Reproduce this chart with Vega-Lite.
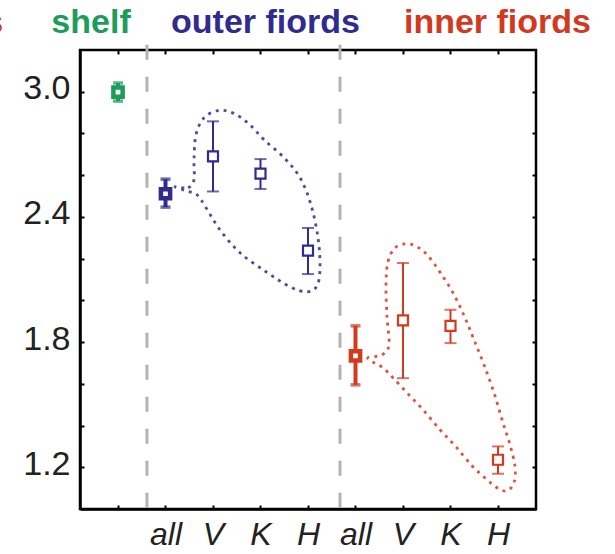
{
  "$schema": "https://vega.github.io/schema/vega-lite/v6.json",
  "width": 456,
  "height": 459,
  "autosize": "none",
  "padding": {"left": 80, "top": 50, "right": 79, "bottom": 45},
  "background": "white",
  "config": {"view": {"stroke": "black", "strokeWidth": 2.5}, "font": "Liberation Sans"},
  "resolve": {"axis": {"x": "independent", "y": "independent"}},
  "datasets": {
    "pts": [
      {"group": "shelf", "kind": "shelf", "site": "shelf", "x": 1, "mean": 2.998, "lo": 2.955, "hi": 3.042},
      {"group": "outer", "kind": "all", "site": "all", "x": 2, "mean": 2.511, "lo": 2.447, "hi": 2.581},
      {"group": "outer", "kind": "site", "site": "V", "x": 3, "mean": 2.69, "lo": 2.522, "hi": 2.858},
      {"group": "outer", "kind": "site", "site": "K", "x": 4, "mean": 2.607, "lo": 2.534, "hi": 2.677},
      {"group": "outer", "kind": "site", "site": "H", "x": 5, "mean": 2.238, "lo": 2.126, "hi": 2.347},
      {"group": "inner", "kind": "all", "site": "all", "x": 6, "mean": 1.734, "lo": 1.595, "hi": 1.878},
      {"group": "inner", "kind": "site", "site": "V", "x": 7, "mean": 1.904, "lo": 1.627, "hi": 2.179},
      {"group": "inner", "kind": "site", "site": "K", "x": 8, "mean": 1.878, "lo": 1.795, "hi": 1.955},
      {"group": "inner", "kind": "site", "site": "H", "x": 9, "mean": 1.236, "lo": 1.169, "hi": 1.3}
    ],
    "seps": [
      {"x": 1.61, "top": 3.225, "bottom": 0.925},
      {"x": 5.674, "top": 3.225, "bottom": 0.925}
    ],
    "heads": [
      {"group": "inner", "label": "fiords", "x": -2.41, "y": 3.283},
      {"group": "shelf", "label": "shelf", "x": 0.432, "y": 3.283},
      {"group": "outer", "label": "outer fiords", "x": 4.105, "y": 3.283},
      {"group": "inner", "label": "inner fiords", "x": 8.989, "y": 3.283}
    ],
    "loops": [
      {"group": "outer", "ord": 1, "x": 2.2, "y": 2.545},
      {"group": "outer", "ord": 2, "x": 2.474, "y": 2.54},
      {"group": "outer", "ord": 3, "x": 2.6, "y": 2.578},
      {"group": "outer", "ord": 4, "x": 2.6, "y": 2.674},
      {"group": "outer", "ord": 5, "x": 2.642, "y": 2.794},
      {"group": "outer", "ord": 6, "x": 2.811, "y": 2.875},
      {"group": "outer", "ord": 7, "x": 3.105, "y": 2.91},
      {"group": "outer", "ord": 8, "x": 3.4, "y": 2.9},
      {"group": "outer", "ord": 9, "x": 3.737, "y": 2.85},
      {"group": "outer", "ord": 10, "x": 4.074, "y": 2.77},
      {"group": "outer", "ord": 11, "x": 4.495, "y": 2.684},
      {"group": "outer", "ord": 12, "x": 4.832, "y": 2.588},
      {"group": "outer", "ord": 13, "x": 5.063, "y": 2.458},
      {"group": "outer", "ord": 14, "x": 5.211, "y": 2.3},
      {"group": "outer", "ord": 15, "x": 5.253, "y": 2.156},
      {"group": "outer", "ord": 16, "x": 5.189, "y": 2.07},
      {"group": "outer", "ord": 17, "x": 4.979, "y": 2.041},
      {"group": "outer", "ord": 18, "x": 4.621, "y": 2.065},
      {"group": "outer", "ord": 19, "x": 4.116, "y": 2.137},
      {"group": "outer", "ord": 20, "x": 3.568, "y": 2.228},
      {"group": "outer", "ord": 21, "x": 3.147, "y": 2.338},
      {"group": "outer", "ord": 22, "x": 2.853, "y": 2.444},
      {"group": "outer", "ord": 23, "x": 2.663, "y": 2.506},
      {"group": "outer", "ord": 24, "x": 2.432, "y": 2.525},
      {"group": "inner", "ord": 1, "x": 6.263, "y": 1.725},
      {"group": "inner", "ord": 2, "x": 6.558, "y": 1.739},
      {"group": "inner", "ord": 3, "x": 6.705, "y": 1.787},
      {"group": "inner", "ord": 4, "x": 6.663, "y": 1.921},
      {"group": "inner", "ord": 5, "x": 6.642, "y": 2.075},
      {"group": "inner", "ord": 6, "x": 6.684, "y": 2.185},
      {"group": "inner", "ord": 7, "x": 6.832, "y": 2.252},
      {"group": "inner", "ord": 8, "x": 7.063, "y": 2.271},
      {"group": "inner", "ord": 9, "x": 7.295, "y": 2.257},
      {"group": "inner", "ord": 10, "x": 7.526, "y": 2.214},
      {"group": "inner", "ord": 11, "x": 7.8, "y": 2.128},
      {"group": "inner", "ord": 12, "x": 8.074, "y": 2.027},
      {"group": "inner", "ord": 13, "x": 8.305, "y": 1.917},
      {"group": "inner", "ord": 14, "x": 8.495, "y": 1.811},
      {"group": "inner", "ord": 15, "x": 8.705, "y": 1.691},
      {"group": "inner", "ord": 16, "x": 8.916, "y": 1.557},
      {"group": "inner", "ord": 17, "x": 9.105, "y": 1.413},
      {"group": "inner", "ord": 18, "x": 9.253, "y": 1.308},
      {"group": "inner", "ord": 19, "x": 9.358, "y": 1.202},
      {"group": "inner", "ord": 20, "x": 9.337, "y": 1.126},
      {"group": "inner", "ord": 21, "x": 9.189, "y": 1.087},
      {"group": "inner", "ord": 22, "x": 8.979, "y": 1.102},
      {"group": "inner", "ord": 23, "x": 8.747, "y": 1.145},
      {"group": "inner", "ord": 24, "x": 8.453, "y": 1.207},
      {"group": "inner", "ord": 25, "x": 8.116, "y": 1.298},
      {"group": "inner", "ord": 26, "x": 7.779, "y": 1.38},
      {"group": "inner", "ord": 27, "x": 7.421, "y": 1.476},
      {"group": "inner", "ord": 28, "x": 7.084, "y": 1.557},
      {"group": "inner", "ord": 29, "x": 6.789, "y": 1.629},
      {"group": "inner", "ord": 30, "x": 6.579, "y": 1.677},
      {"group": "inner", "ord": 31, "x": 6.389, "y": 1.701}
    ]
  },
  "layer": [
    {
      "data": {"name": "seps"},
      "mark": {"type": "rule", "color": "#b3b3b3", "strokeWidth": 3, "strokeDash": [15, 17]},
      "encoding": {
        "x": {"field": "x", "type": "quantitative", "scale": {"domain": [0.2, 9.8], "nice": false, "zero": false},
          "axis": {"orient": "top", "values": [1, 2, 3, 4, 5, 6, 7, 8, 9], "labels": false, "domain": false, "grid": false, "title": null, "tickSize": -4, "tickWidth": 2, "tickColor": "black"}},
        "y": {"field": "top", "type": "quantitative", "scale": {"domain": [1.0, 3.2], "nice": false, "zero": false},
          "axis": {"orient": "right", "values": [1.2, 1.4, 1.6, 1.8, 2.0, 2.2, 2.4, 2.6, 2.8, 3.0], "labels": false, "domain": false, "grid": false, "title": null, "tickSize": -4, "tickWidth": 2, "tickColor": "black"}},
        "y2": {"field": "bottom"}
      }
    },
    {
      "data": {"name": "loops"},
      "mark": {"type": "line", "interpolate": "cardinal-closed", "strokeWidth": 2.8, "strokeDash": [3, 5], "opacity": 0.85},
      "encoding": {
        "x": {"field": "x", "type": "quantitative", "axis": null},
        "y": {"field": "y", "type": "quantitative", "axis": null},
        "detail": {"field": "group"},
        "order": {"field": "ord", "type": "quantitative"},
        "color": {"field": "group", "type": "nominal", "scale": {"domain": ["shelf", "outer", "inner"], "range": ["#1e9d5a", "#302b8e", "#d2391f"]}, "legend": null}
      }
    },
    {
      "data": {"name": "pts"},
      "transform": [{"filter": "datum.kind == 'site'"}],
      "layer": [
        {"mark": {"type": "rule", "strokeWidth": 2}, "encoding": {"y": {"field": "lo", "type": "quantitative", "axis": null}, "y2": {"field": "hi"}}},
        {"mark": {"type": "tick", "orient": "horizontal", "size": 12, "thickness": 2}, "encoding": {"y": {"field": "lo", "type": "quantitative", "axis": null}}},
        {"mark": {"type": "tick", "orient": "horizontal", "size": 12, "thickness": 2}, "encoding": {"y": {"field": "hi", "type": "quantitative", "axis": null}}},
        {"mark": {"type": "point", "shape": "square", "size": 100, "strokeWidth": 2.2, "fill": "white", "filled": true, "opacity": 1},
          "encoding": {"y": {"field": "mean", "type": "quantitative", "axis": null}, "stroke": {"field": "group", "type": "nominal", "scale": {"domain": ["shelf", "outer", "inner"], "range": ["#1e9d5a", "#302b8e", "#d2391f"]}, "legend": null}}}
      ],
      "encoding": {
        "x": {"field": "x", "type": "quantitative", "axis": null},
        "color": {"field": "group", "type": "nominal", "legend": null}
      }
    },
    {
      "data": {"name": "pts"},
      "transform": [{"filter": "datum.kind != 'site'"}],
      "layer": [
        {"mark": {"type": "rule", "strokeWidth": 4}, "encoding": {"y": {"field": "lo", "type": "quantitative", "axis": null}, "y2": {"field": "hi"}}},
        {"mark": {"type": "tick", "orient": "horizontal", "size": 10, "thickness": 3.5}, "encoding": {"y": {"field": "lo", "type": "quantitative", "axis": null}}},
        {"mark": {"type": "tick", "orient": "horizontal", "size": 10, "thickness": 3.5}, "encoding": {"y": {"field": "hi", "type": "quantitative", "axis": null}}},
        {"mark": {"type": "point", "shape": "square", "size": 85, "strokeWidth": 4.5, "fill": "white", "filled": true, "opacity": 1},
          "encoding": {"y": {"field": "mean", "type": "quantitative", "axis": null}, "stroke": {"field": "group", "type": "nominal", "scale": {"domain": ["shelf", "outer", "inner"], "range": ["#1e9d5a", "#302b8e", "#d2391f"]}, "legend": null}}}
      ],
      "encoding": {
        "x": {"field": "x", "type": "quantitative",
          "axis": {"orient": "bottom", "values": [1, 2, 3, 4, 5, 6, 7, 8, 9], "labelExpr": "['','all','V','K','H','all','V','K','H'][round(datum.value)-1]", "labelFont": "Liberation Sans", "labelFontSize": 32, "labelFontStyle": "italic", "labelColor": "#222222", "labelPadding": 14, "labelFlush": false, "labelOverlap": false, "labelBound": false, "tickSize": -4, "tickWidth": 2, "tickColor": "black", "domainColor": "black", "domainWidth": 2.5, "grid": false, "title": null}},
        "color": {"field": "group", "type": "nominal", "legend": null}
      }
    },
    {
      "data": {"name": "pts"},
      "mark": {"type": "point", "opacity": 0},
      "encoding": {
        "x": {"field": "x", "type": "quantitative", "axis": null},
        "y": {"field": "mean", "type": "quantitative",
          "axis": {"orient": "left", "values": [1.2, 1.4, 1.6, 1.8, 2.0, 2.2, 2.4, 2.6, 2.8, 3.0], "labelExpr": "(round(datum.value*10) % 6 == 0) ? format(datum.value, '.1f') : ''", "labelFont": "Liberation Sans", "labelFontSize": 34, "labelColor": "#222222", "labelPadding": 14, "labelBaseline": "alphabetic", "labelOffset": 7, "labelFlush": false, "labelOverlap": false, "labelBound": false, "tickSize": -4, "tickWidth": 2, "tickColor": "black", "domainColor": "black", "domainWidth": 2.5, "grid": false, "title": null}}
      }
    },
    {
      "data": {"name": "heads"},
      "mark": {"type": "text", "font": "Liberation Sans", "fontSize": 34, "fontWeight": "bold", "align": "center", "baseline": "alphabetic"},
      "encoding": {
        "x": {"field": "x", "type": "quantitative", "axis": null},
        "y": {"field": "y", "type": "quantitative", "axis": null},
        "text": {"field": "label"},
        "color": {"field": "group", "type": "nominal", "legend": null}
      }
    }
  ]
}
